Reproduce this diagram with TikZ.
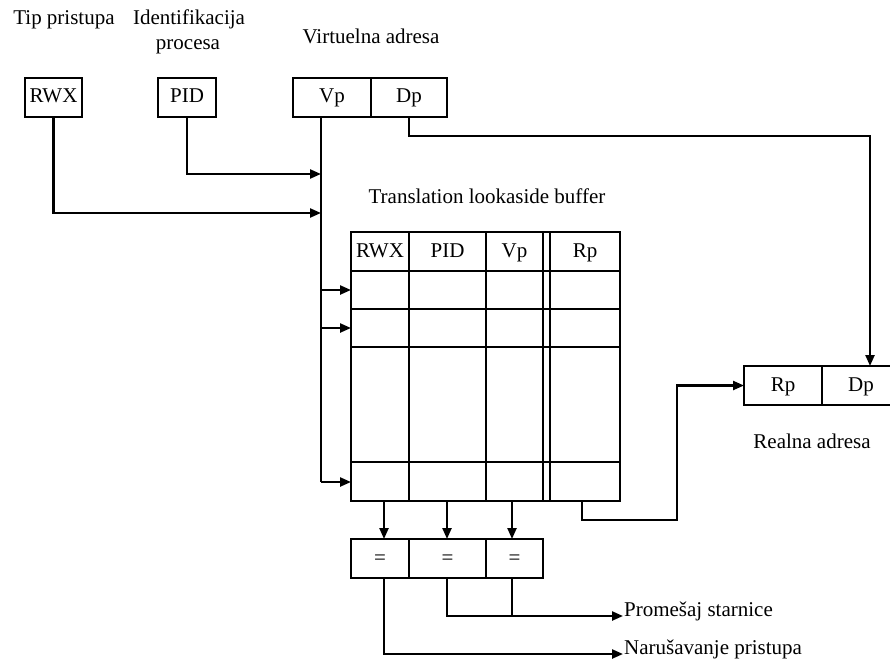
\documentclass[tikz,border=0pt]{standalone}
\usepackage{fontspec}
\setmainfont{Liberation Serif}
\usetikzlibrary{arrows.meta}
\newcommand{\lblfont}{\fontsize{21}{24}\selectfont}
\begin{document}
\begin{tikzpicture}[x=1pt,y=-1pt,line width=2.3pt,
  cell/.style={draw,minimum height=39pt,inner sep=0pt,outer sep=0pt,anchor=north west,
    font=\lblfont,text height=14pt,text depth=3pt},
  lbl/.style={font=\lblfont,inner sep=0pt,anchor=base},
  arr/.style={-{Triangle[length=11pt,width=9pt]}}]
\clip (0,0) rectangle (890,660);

% input registers
\node[cell,minimum width=57pt] (rwx) at (25,78) {RWX};
\node[cell,minimum width=58pt] (pid) at (158,78) {PID};
\node[cell,minimum width=78pt] (vp) at (293,78) {Vp};
\node[cell,minimum width=76pt] (dp) at (371,78) {Dp};

\node[lbl] (tiplbl) at (64,25) {Tip pristupa};
\node[lbl] (idlbl) at (189,25) {Identifikacija};
\node[lbl] (proclbl) at (188,50) {procesa};
\node[lbl] (vlbl) at (371,44) {Virtuelna adresa};
\node[lbl] (tlblbl) at (487,204) {Translation lookaside buffer};

% TLB table
\draw (351,232) rectangle (620,501);
\foreach \yy in {271,309,347,462} \draw (351,\yy) -- (620,\yy);
\foreach \xx in {409,486,543,550} \draw (\xx,232) -- (\xx,501);
\node[lbl] (hrwx) at (380,257) {RWX};
\node[lbl] (hpid) at (447.5,257) {PID};
\node[lbl] (hvp) at (514.5,257) {Vp};
\node[lbl] (hrp) at (585,257) {Rp};

% comparators
\node[cell,minimum width=58pt] (eq1) at (351,539) {=};
\node[cell,minimum width=77pt] (eq2) at (409,539) {=};
\node[cell,minimum width=57pt] (eq3) at (486,539) {=};

% real address register
\node[cell,minimum width=78pt] (rrp) at (744,366) {Rp};
\node[cell,minimum width=78pt] (rdp) at (822,366) {Dp};
\node[lbl] (rlbl) at (812,448) {Realna adresa};

% named points on the bus and table edges
\coordinate (bustop) at (321,117);
\coordinate (busbot) at (321,482);
\coordinate (tr1) at (351,290);
\coordinate (tr2) at (351,328);
\coordinate (tr3) at (351,482);
\coordinate (rpout) at (582,501);
\coordinate (prom) at (623,616);
\coordinate (naru) at (623,654);

% connectors into the bus
\draw (bustop) -- (busbot);
\draw[arr] (rwx.south) |- (bustop |- 0,213);
\draw[arr] (pid.south) |- (bustop |- 0,174);
\draw[arr] (dp.south) -- (409,136) -| (870,366);

% bus to table rows
\draw[arr] (tr1 -| bustop) -- (tr1);
\draw[arr] (tr2 -| bustop) -- (tr2);
\draw[arr] (busbot) -- (tr3);

% table to comparators
\draw[arr] (384,501) -- (384,539);
\draw[arr] (447,501) -- (447,539);
\draw[arr] (512,501) -- (512,539);

% Rp to real address
\draw[arr] (rpout) -- (582,520) -- (677,520) |- (rrp.west);

% comparator outputs
\draw (512,578) -- (512,616);
\draw[arr] (447,578) |- (prom);
\draw[arr] (384,578) |- (naru);
\node[lbl,anchor=base west] (promlbl) at (prom) {Promešaj starnice};
\node[lbl,anchor=base west] (narulbl) at (naru) {Narušavanje pristupa};
\end{tikzpicture}
\end{document}
